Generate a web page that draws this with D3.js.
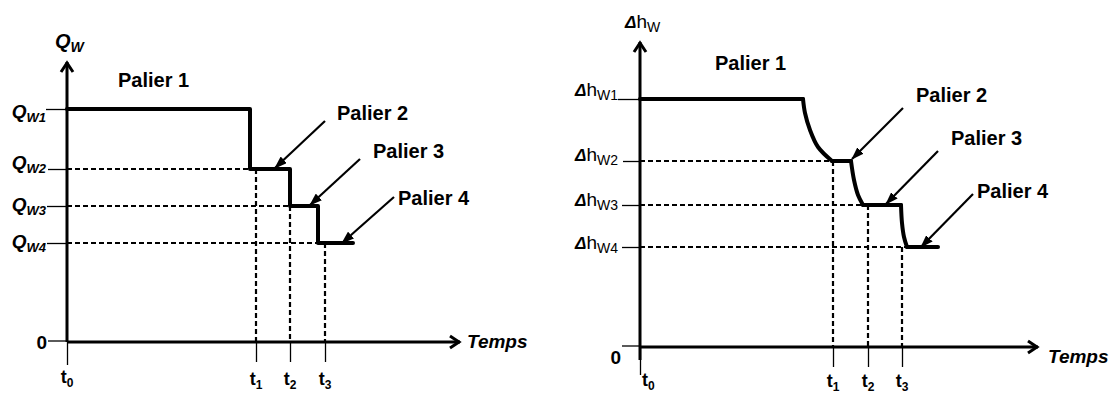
<!DOCTYPE html>
<html>
<head>
<meta charset="utf-8">
<script src="https://cdn.jsdelivr.net/npm/d3@7"></script>
<style>
  body { margin: 0; background: #fff; }
  text { font-family: "Liberation Sans", Arial, sans-serif; fill: #000; }
</style>
</head>
<body>
<svg id="chart" width="1117" height="394"></svg>
<script>
// ---- left panel: débit Qw par paliers (units 0..100 on both axes)
var qwTimes = [0, 48, 56.7, 65.6];                 // t0..t3
var qwLevels = [83.2, 61.8, 48.6, 35.4];           // Qw1..Qw4
var qwSubs = ["W1", "W2", "W3", "W4"];
var qwProfile = [[0, 83.2], [46.6, 83.2], [46.6, 61.8], [56.7, 61.8],
                 [56.7, 48.6], [63.9, 48.6], [63.9, 35.4], [72.8, 35.4]];
var qwGuideEnd = [46.6, 56.7, 63.9];               // where the dashed guides of Qw2..Qw4 stop

// ---- right panel: perte de charge Δhw
var dhTimes = [0, 48.5, 57.3, 65.8];
var dhLevels = [81.3, 61.0, 46.6, 32.8];
var dhSubs = ["W1", "W2", "W3", "W4"];
var dhFlats = [
  [[0, 81.3], [41, 81.3]],
  [[48.2, 61.0], [53, 61.0]],
  [[56, 46.6], [65.6, 46.6]],
  [[67.1, 32.8], [74.9, 32.8]]
];
var dhCurves = [
  [[41, 81.3], [41.5, 76.7], [42.7, 71.1], [44.7, 65.6], [48.2, 61.0]],
  [[53, 61.0], [53.8, 54.8], [54.8, 49.8], [56, 46.6]],
  [[65.6, 46.6], [65.8, 40.7], [66.3, 36.1], [67.1, 32.8]]
];
var dhGuideEnd = [48.2, 56, 67.1];

var tSubs = ["0", "1", "2", "3"];
var palierNames = ["Palier 1", "Palier 2", "Palier 3", "Palier 4"];

// callouts: text anchor + arrow [from, to], in panel units
var qwNotes = [
  { t: [13.0, 91.1] },
  { t: [68.7, 79.3], a: [[65.6, 78.9], [52.9, 62.1]] },
  { t: [77.9, 65.7], a: [[74.6, 65.4], [61.8, 48.9]] },
  { t: [84.2, 48.9], a: [[83.2, 51.8], [70.0, 35.4]] }
];
var dhNotes = [
  { t: [18.8, 90.8] },
  { t: [69.3, 80.3], a: [[66.1, 78.4], [53.3, 61.6]] },
  { t: [78.1, 66.2], a: [[74.9, 64.3], [61.8, 46.9]] },
  { t: [84.7, 48.9], a: [[83.7, 50.2], [70.6, 32.8]] }
];

var svg = d3.select("#chart");
var defs = svg.append("defs");
defs.append("marker").attr("id", "head")
  .attr("viewBox", "0 0 13 9").attr("refX", 12).attr("refY", 4.5)
  .attr("markerWidth", 13).attr("markerHeight", 9)
  .attr("markerUnits", "userSpaceOnUse").attr("orient", "auto")
  .append("path").attr("d", "M0,0 L13,4.5 L0,9 Z").attr("fill", "#000");

function drawPanel(p) {
  var g = svg.append("g");
  var x = d3.scaleLinear().domain([0, 100]).rangeRound(p.xr);
  var y = d3.scaleLinear().domain([0, 100]).rangeRound(p.yr);
  var line = d3.line().x(function (d) { return x(d[0]); }).y(function (d) { return y(d[1]); });
  var x0 = x(0), y0 = y(0);

  // dashed guides
  p.levels.slice(1).forEach(function (lv, i) {
    g.append("line").attr("x1", x0).attr("x2", x(p.guideEnd[i]))
      .attr("y1", y(lv)).attr("y2", y(lv))
      .attr("stroke", "#000").attr("stroke-width", 2.2).attr("stroke-dasharray", "5,3");
  });
  p.times.slice(1).forEach(function (t, i) {
    g.append("line").attr("x1", x(t)).attr("x2", x(t))
      .attr("y1", y(p.levels[i + 1])).attr("y2", y0)
      .attr("stroke", "#000").attr("stroke-width", 2.2).attr("stroke-dasharray", "5,3");
  });

  // level labels with thin ticks
  p.levels.forEach(function (lv, i) {
    g.append("line").attr("x1", x0 - p.tickLen[i]).attr("x2", x0)
      .attr("y1", y(lv) + 0.5).attr("y2", y(lv) + 0.5).attr("stroke", "#000").attr("stroke-width", 1.3);
    p.levelLabel(g.append("text").attr("x", p.labelEnd).attr("y", y(lv) + p.labelDy[i])
      .attr("text-anchor", "end"), i);
  });
  // zero
  g.append("line").attr("x1", x0 - p.zeroTick).attr("x2", x0).attr("y1", y0 - 1).attr("y2", y0 - 1)
    .attr("stroke", "#000").attr("stroke-width", 1.3);
  g.append("text").attr("x", p.zeroPos[0]).attr("y", p.zeroPos[1])
    .attr("text-anchor", "end").attr("font-size", 19).attr("font-weight", "bold").text("0");

  // time ticks and labels
  p.times.forEach(function (t, i) {
    g.append("line").attr("x1", x(t) + 0.5).attr("x2", x(t) + 0.5).attr("y1", y0)
      .attr("y2", y0 + (i === 0 ? p.yTail : 20)).attr("stroke", "#000").attr("stroke-width", 1.3);
    var tx = g.append("text").attr("x", x(t) + (i === 0 ? p.t0dx : 0))
      .attr("y", i === 0 ? p.t0y : p.tY)
      .attr("text-anchor", i === 0 && p.t0dx > 0 ? "start" : "middle")
      .attr("font-weight", "bold");
    tx.append("tspan").attr("font-size", 18).text("t");
    tx.append("tspan").attr("font-size", 12).attr("dy", 4).text(tSubs[i]);
  });

  // axes
  g.append("line").attr("x1", x0).attr("x2", x0).attr("y1", y(100)).attr("y2", y0 + p.yThick)
    .attr("stroke", "#000").attr("stroke-width", 3);
  g.append("line").attr("x1", x0).attr("x2", x(100)).attr("y1", y0).attr("y2", y0)
    .attr("stroke", "#000").attr("stroke-width", 3);
  g.append("path").attr("d", d3.line()([[x0 - 6, y(100) + 10], [x0, y(100) + 1], [x0 + 6, y(100) + 10]]))
    .attr("fill", "none").attr("stroke", "#000").attr("stroke-width", 3);
  g.append("path").attr("d", d3.line()([[x(100) - 10, y0 - 6], [x(100) - 1, y0], [x(100) - 10, y0 + 6]]))
    .attr("fill", "none").attr("stroke", "#000").attr("stroke-width", 3);

  g.append("text").attr("x", p.tempsPos[0]).attr("y", p.tempsPos[1])
    .attr("font-size", 19).attr("font-weight", "bold").attr("font-style", "italic").text("Temps");
  p.axisTitle(g.append("text").attr("x", p.titlePos[0]).attr("y", p.titlePos[1]));

  // profile
  p.segments.forEach(function (seg) {
    g.append("path").attr("d", line.curve(seg.curve)(seg.pts))
      .attr("fill", "none").attr("stroke", "#000").attr("stroke-width", 4)
      .attr("stroke-linejoin", "round").attr("stroke-linecap", "round");
  });

  // callouts
  p.notes.forEach(function (n, i) {
    g.append("text").attr("x", x(n.t[0])).attr("y", y(n.t[1]))
      .attr("font-size", 20).attr("font-weight", "bold").text(palierNames[i]);
    if (n.a) {
      g.append("line").attr("x1", x(n.a[0][0])).attr("y1", y(n.a[0][1]))
        .attr("x2", x(n.a[1][0])).attr("y2", y(n.a[1][1]))
        .attr("stroke", "#000").attr("stroke-width", 2.2).attr("marker-end", "url(#head)");
    }
  });
}

drawPanel({
  xr: [67, 460], yr: [342, 62],
  times: qwTimes, levels: qwLevels, guideEnd: qwGuideEnd,
  tickLen: [21, 19, 20, 20], zeroTick: 19, labelEnd: 46, labelDy: [9, 0, 5, 5],
  levelLabel: function (t, i) {
    t.attr("font-weight", "bold").attr("font-style", "italic");
    t.append("tspan").attr("font-size", 19).text("Q");
    t.append("tspan").attr("font-size", 13).attr("dy", 4).text(qwSubs[i]);
  },
  zeroPos: [47, 349], yTail: 23, yThick: 0, t0dx: 0, t0y: 383, tY: 385,
  tempsPos: [467, 348], titlePos: [55, 48],
  axisTitle: function (t) {
    t.attr("font-weight", "bold").attr("font-style", "italic");
    t.append("tspan").attr("font-size", 20).text("Q");
    t.append("tspan").attr("font-size", 14).attr("dy", 4).text("W");
  },
  segments: [{ pts: qwProfile, curve: d3.curveLinear }],
  notes: qwNotes
});

drawPanel({
  xr: [640, 1038], yr: [347, 42],
  times: dhTimes, levels: dhLevels, guideEnd: dhGuideEnd,
  tickLen: [22, 17, 18, 18], zeroTick: 18, labelEnd: 618, labelDy: [-3, 0, 1, 2],
  levelLabel: function (t, i) {
    t.append("tspan").attr("font-size", 17).attr("font-weight", "bold").attr("font-style", "italic").text("\u0394");
    t.append("tspan").attr("font-size", 19).text("h");
    t.append("tspan").attr("font-size", 14).attr("dy", 4).text(dhSubs[i]);
  },
  zeroPos: [621, 364], yTail: 28, yThick: 13, t0dx: 2, t0y: 386, tY: 387,
  tempsPos: [1048, 363], titlePos: [625, 28],
  axisTitle: function (t) {
    t.append("tspan").attr("font-size", 17).attr("font-weight", "bold").attr("font-style", "italic").text("\u0394");
    t.append("tspan").attr("font-size", 19).text("h");
    t.append("tspan").attr("font-size", 14).attr("dy", 4).text("W");
  },
  segments: dhFlats.map(function (f) { return { pts: f, curve: d3.curveLinear }; })
    .concat(dhCurves.map(function (c) { return { pts: c, curve: d3.curveCatmullRom }; })),
  notes: dhNotes
});
</script>
</body>
</html>
